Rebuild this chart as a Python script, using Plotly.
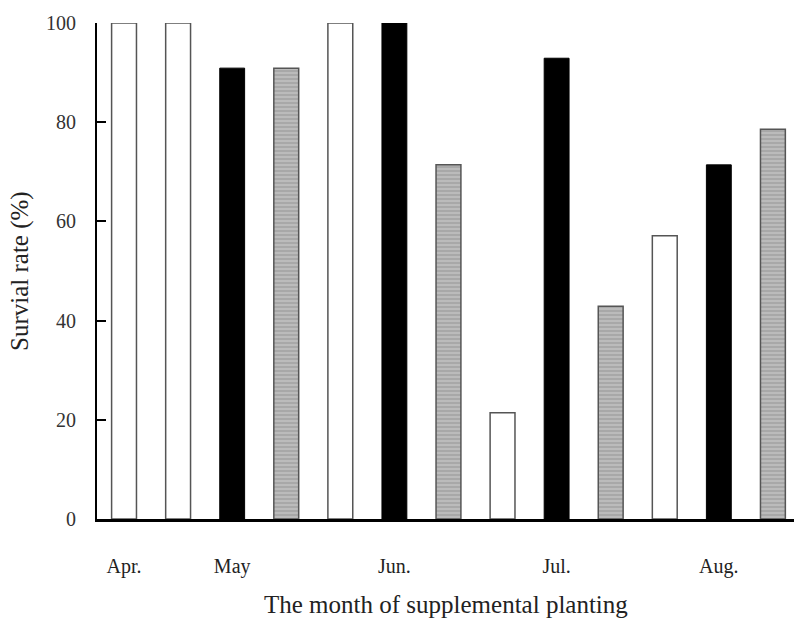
import plotly.graph_objects as go

# Data
months = ["Apr.", "May", "Jun.", "Jul.", "Aug."]
# survival rate (%) per month for each treatment (None = not planted)
white_vals = [100.0, 100.0, 100.0, 21.4, 57.1]
black_vals = [None, 90.9, 100.0, 92.9, 71.4]
gray_vals = [None, 90.9, 71.4, 42.9, 78.6]

series = [
    ("white", white_vals),
    ("black", black_vals),
    ("gray", gray_vals),
]

# Compute slot positions: bars laid out consecutively, month label at group centre
pos = {name: [] for name, _ in series}
val = {name: [] for name, _ in series}
label_pos = []
slot = 0
for i, m in enumerate(months):
    start = slot
    for name, vals in series:
        v = vals[i]
        if v is not None:
            pos[name].append(slot)
            val[name].append(v)
            slot += 1
    label_pos.append((start + slot - 1) / 2)

fig = go.Figure()
bw = 0.46
fig.add_trace(go.Bar(
    x=pos["white"], y=val["white"], width=bw,
    marker=dict(color="white", line=dict(color="#555555", width=1.5)),
    showlegend=False))
fig.add_trace(go.Bar(
    x=pos["black"], y=val["black"], width=bw,
    marker=dict(color="black", line=dict(color="black", width=1)),
    showlegend=False))
fig.add_trace(go.Bar(
    x=pos["gray"], y=val["gray"], width=bw,
    marker=dict(color="#a8a8a8", line=dict(color="#555555", width=1.5),
                pattern=dict(shape="-", fgcolor="#e0e0e0", bgcolor="#a8a8a8",
                             size=4, solidity=0.35)),
    showlegend=False))

font = "Liberation Serif, Times New Roman, serif"
fig.update_layout(
    width=794, height=621,
    margin=dict(l=97, r=0, t=23, b=102),
    paper_bgcolor="white", plot_bgcolor="white",
    font=dict(family=font, size=20, color="#222222"),
    barmode="overlay",
    xaxis=dict(
        range=[-0.5, 12.39],
        tickvals=label_pos, ticktext=months,
        ticks="", showgrid=False, zeroline=False,
        showline=True, linecolor="black", linewidth=3,
        ticklabelstandoff=27,
        tickfont=dict(family=font, size=20, color="#222222"),
    ),
    yaxis=dict(
        range=[0, 100], dtick=20,
        ticks="inside", ticklen=9, tickwidth=2, tickcolor="black",
        showgrid=False, zeroline=False,
        showline=True, linecolor="black", linewidth=2,
        ticklabelstandoff=15,
        tickfont=dict(family=font, size=20, color="#333333"),
    ),
    annotations=[
        dict(text="The month of supplemental planting", xref="paper", yref="paper",
             x=0.5, y=0, yshift=-85, yanchor="middle", showarrow=False,
             font=dict(family=font, size=25, color="#222222")),
        dict(text="Survial rate (%)", xref="paper", yref="paper",
             x=0, y=0.5, xshift=-77, xanchor="center", yanchor="middle",
             textangle=-90, showarrow=False,
             font=dict(family=font, size=25, color="#222222")),
    ],
)

fig.write_html("out.html")
